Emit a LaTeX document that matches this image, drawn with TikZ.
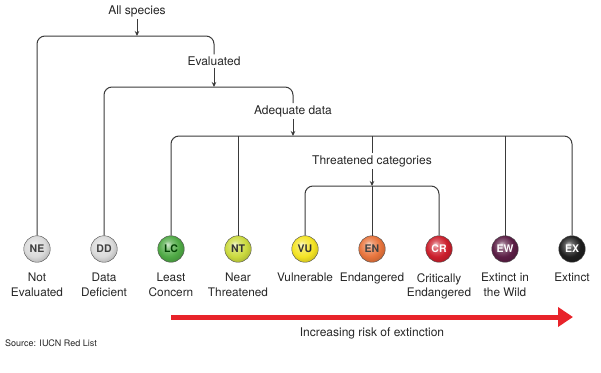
\documentclass[tikz,border=0pt]{standalone}
\usepackage{fontspec}
\setmainfont{TeX Gyre Heros}
\usetikzlibrary{arrows.meta}
\definecolor{linegray}{HTML}{3A3A3A}
\definecolor{cne}{HTML}{DADADA}
\definecolor{clc}{HTML}{4FAA45}
\definecolor{cnt}{HTML}{CBDA3E}
\definecolor{cvu}{HTML}{F4E424}
\definecolor{cen}{HTML}{E8743C}
\definecolor{ccr}{HTML}{CC1F2C}
\definecolor{cew}{HTML}{5B1E45}
\definecolor{cex}{HTML}{1E1E1E}
\definecolor{riskred}{HTML}{E8232A}
\makeatletter
\pgfdeclareradialshading[tikz@ball]{softball}{\pgfqpoint{-7bp}{9bp}}{%
 color(0bp)=(tikz@ball!25!white);
 color(8bp)=(tikz@ball!70!white);
 color(20bp)=(tikz@ball);
 color(32bp)=(tikz@ball!80!black);
 color(50bp)=(tikz@ball!60!black)}
\makeatother
\tikzset{
 conn/.style={draw=linegray, line width=1pt, rounded corners=8pt},
 arr/.style={draw=linegray, line width=1pt, -{Stealth[length=5pt,width=4.5pt]}},
 hd/.style={font=\fontsize{12}{14}\selectfont, inner sep=2pt, text=black!85},
 cat/.style={circle, minimum size=26.5pt, inner sep=0pt, draw=gray!60!black, line width=0.4pt, font=\fontsize{10.5}{12}\selectfont\bfseries},
 lab/.style={font=\fontsize{11.8}{14.5}\selectfont, align=center, anchor=north, inner sep=0pt, text=black!85},
}
\begin{document}
\begin{tikzpicture}[x=1pt,y=-1pt]
\path[use as bounding box] (0,0) rectangle (601,372);
% header texts
\node[hd] (all) at (137,11) {All species};
\node[hd] (ev) at (214,61) {Evaluated};
\node[hd] (ad) at (293,111) {Adequate data};
\node[hd] (tc) at (372,161) {Threatened categories};
% branch coordinates
\coordinate (b1) at (137,36);
\coordinate (b2) at (214,87);
\coordinate (b3) at (293,136);
\coordinate (b4) at (372,186);
% category balls
\node[cat, ball color=cne, shading=softball, text=black!75] (ne) at (37,249) {NE};
\node[cat, ball color=cne, shading=softball, text=black!75] (dd) at (104,249) {DD};
\node[cat, ball color=clc, shading=softball, text=green!25!black] (lc) at (171,249) {LC};
\node[cat, ball color=cnt, shading=softball, text=black!80] (nt) at (238,249) {NT};
\node[cat, ball color=cvu, shading=softball, text=black!80] (vu) at (305,249) {VU};
\node[cat, ball color=cen, shading=softball, text=black!75] (en) at (372,249) {EN};
\node[cat, ball color=ccr, shading=softball, text=white] (cr) at (439,249) {CR};
\node[cat, ball color=cew, shading=softball, text=white] (ew) at (505,249) {EW};
\node[cat, ball color=cex, shading=softball, text=white] (ex) at (572,249) {EX};
% labels
\node[lab] (lne) at (37,273) {Not\\Evaluated};
\node[lab] (ldd) at (104,273) {Data\\Deficient};
\node[lab] (llc) at (171,273) {Least\\Concern};
\node[lab] (lnt) at (238,273) {Near\\Threatened};
\node[lab] (lvu) at (305,273) {Vulnerable};
\node[lab] (len) at (372,273) {Endangered};
\node[lab] (lcr) at (439,273) {Critically\\Endangered};
\node[lab] (lew) at (505,273) {Extinct in\\the Wild};
\node[lab] (lex) at (572,273) {Extinct};
% tree connectors
\draw[arr] (all) -- (b1);
\draw[conn] (ne.north) |- (b1) -| (ev.north);
\draw[arr] (ev) -- (b2);
\draw[conn] (dd.north) |- (b2) -| (ad.north);
\draw[arr] (ad) -- (b3);
\draw[conn] (lc.north) |- (b3) -| (ex.north);
\draw[conn] (nt.north) -- (nt.north |- b3);
\draw[conn] (ew.north) -- (ew.north |- b3);
\draw[conn] (tc.north) -- (tc.north |- b3);
\draw[arr] (tc) -- (b4);
\draw[conn] (vu.north) |- (b4) -| (cr.north);
\draw[conn] (en.north) -- (b4);
% risk arrow
\coordinate (ra) at (171,317);
\coordinate (rb) at (573,317);
\draw[draw=riskred, line width=5pt, -{Triangle[length=15pt,width=19pt]}] (ra) -- (rb);
\node[hd] (risk) at (372,333) {Increasing risk of extinction};
\node[font=\fontsize{9}{11}\selectfont, anchor=west, inner sep=0pt, text=black!85] (src) at (5,343) {Source: IUCN Red List};
\end{tikzpicture}
\end{document}
